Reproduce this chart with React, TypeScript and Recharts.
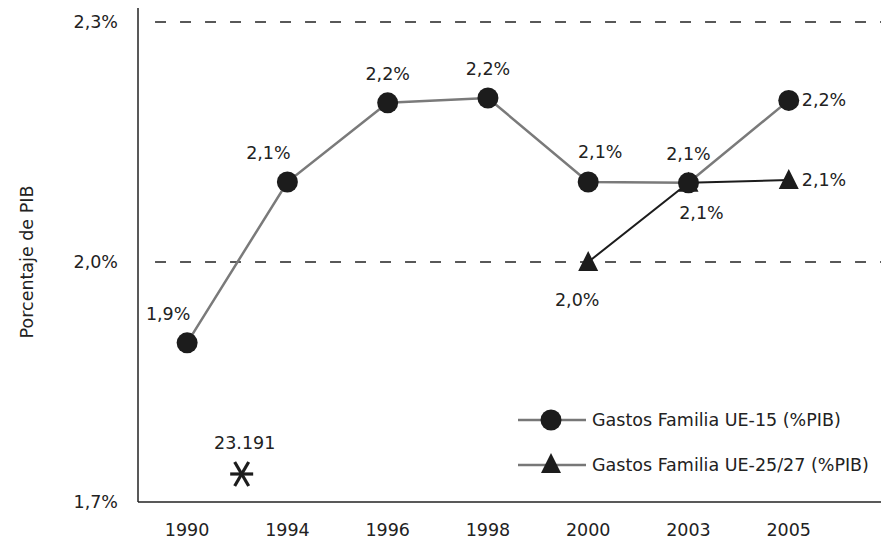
import {
  ComposedChart,
  Line,
  Scatter,
  XAxis,
  YAxis,
  ReferenceLine,
  LabelList,
} from 'recharts';

const years = ['1990', '1994', '1996', '1998', '2000', '2003', '2005'];
const ue15Values = [1.899, 2.1, 2.199, 2.205, 2.1, 2.099, 2.202];
const ue25Values: (number | null)[] = [null, null, null, null, 2.0, 2.099, 2.1025];
const ue15LabelPos = ['topLeft', 'topLeft', 'top', 'top', 'topRight', 'top', 'right'];
const ue25LabelPos = ['', '', '', '', 'bottomLeft', 'bottomRight', 'right'];
const yTicks = [1.7, 2.0, 2.3];
const gridValues = [2.0, 2.3];
const noteValue = { x: 0.544, y: 1.735, label: '23.191' };
const seriesNames = ['Gastos Familia UE-15 (%PIB)', 'Gastos Familia UE-25/27 (%PIB)'];

const FONT = '"DejaVu Sans", sans-serif';
const FS = 17.5;
const TEXT = '#222';

const ue15Data = ue15Values.map((v, i) => ({ x: i, y: v, pos: ue15LabelPos[i] }));
const ue25Data = ue25Values
  .map((v, i) => ({ x: i, y: v, pos: ue25LabelPos[i] }))
  .filter((d) => d.y !== null);

const fmtPct = (v: number) => v.toFixed(1).replace('.', ',') + '%';

const OFFSETS: Record<string, { dx: number; dy: number; anchor: string }> = {
  top: { dx: 0, dy: -29, anchor: 'middle' },
  topLeft: { dx: -19, dy: -29, anchor: 'middle' },
  topRight: { dx: 12, dy: -30, anchor: 'middle' },
  bottomLeft: { dx: -11, dy: 38, anchor: 'middle' },
  bottomRight: { dx: 13, dy: 30, anchor: 'middle' },
  right: { dx: 13, dy: 0, anchor: 'start' },
};

// eslint-disable-next-line @typescript-eslint/no-explicit-any
function makeLabel(data: any[]) {
  // eslint-disable-next-line @typescript-eslint/no-explicit-any
  return (props: any) => {
    const { x, y, value, index } = props;
    const o = OFFSETS[data[index]?.pos] ?? OFFSETS.top;
    return (
      <text
        x={x + o.dx}
        y={y + o.dy}
        textAnchor={o.anchor}
        dominantBaseline="central"
        fontSize={FS}
        fontFamily={FONT}
        fill={TEXT}
      >
        {fmtPct(value)}
      </text>
    );
  };
}

// eslint-disable-next-line @typescript-eslint/no-explicit-any
function CircleDot(props: any) {
  const { cx, cy } = props;
  if (cx == null || cy == null) return null;
  return <circle cx={cx} cy={cy} r={10.5} fill="#1c1c1c" />;
}

// eslint-disable-next-line @typescript-eslint/no-explicit-any
function TriangleDot(props: any) {
  const { cx, cy } = props;
  if (cx == null || cy == null) return null;
  return <path d={`M${cx},${cy - 11} L${cx + 10},${cy + 9} L${cx - 10},${cy + 9} Z`} fill="#1c1c1c" />;
}

// eslint-disable-next-line @typescript-eslint/no-explicit-any
function Asterisk(props: any) {
  const { cx, cy } = props;
  const h = 11.5;
  const dx = 7;
  const dy = 12;
  return (
    <g stroke="#1c1c1c" strokeWidth={3.2}>
      <line x1={cx - h} y1={cy} x2={cx + h} y2={cy} />
      <line x1={cx - dx} y1={cy - dy} x2={cx + dx} y2={cy + dy} />
      <line x1={cx + dx} y1={cy - dy} x2={cx - dx} y2={cy + dy} />
      <text
        x={cx + 3}
        y={cy - 31}
        textAnchor="middle"
        dominantBaseline="central"
        fontSize={FS}
        fontFamily={FONT}
        fill={TEXT}
        stroke="none"
      >
        {noteValue.label}
      </text>
    </g>
  );
}

function ChartLegend() {
  return (
    <div
      style={{
        position: 'absolute',
        left: 518,
        top: 397,
        fontFamily: FONT,
        fontSize: FS,
        color: TEXT,
        whiteSpace: 'nowrap',
      }}
    >
      {seriesNames.map((name, i) => (
        <div key={name} style={{ display: 'flex', alignItems: 'center', height: 45 }}>
          <svg width={74} height={30}>
            <line x1={0} y1={15} x2={68} y2={15} stroke="#777" strokeWidth={2.5} />
            {i === 0 ? <CircleDot cx={33} cy={15} /> : <TriangleDot cx={33} cy={14} />}
          </svg>
          <span>{name}</span>
        </div>
      ))}
    </div>
  );
}

export default function App() {
  return (
    <div style={{ position: 'absolute', left: 0, top: 0, width: 881, height: 550, background: '#fff' }}>
      <ComposedChart width={881} height={550} margin={{ top: 8, right: 0, left: 8, bottom: 0 }}>
        <XAxis
          type="number"
          dataKey="x"
          domain={[-0.49, 6.92]}
          ticks={[0, 1, 2, 3, 4, 5, 6]}
          tickFormatter={(i: number) => years[i]}
          allowDataOverflow
          height={48}
          tickLine={false}
          tickSize={0}
          tickMargin={22}
          axisLine={{ stroke: TEXT, strokeWidth: 1.5 }}
          tick={{ fill: TEXT, fontSize: FS, fontFamily: FONT }}
        />
        <YAxis
          type="number"
          dataKey="y"
          domain={[1.7, 2.3175]}
          ticks={yTicks}
          allowDataOverflow
          width={130}
          tickLine={false}
          tickSize={0}
          tickMargin={20}
          tickFormatter={fmtPct}
          axisLine={{ stroke: TEXT, strokeWidth: 1.5 }}
          tick={{ fill: TEXT, fontSize: FS, fontFamily: FONT }}
          label={{
            content: () => (
              <text
                x={27}
                y={262}
                transform="rotate(-90 27 262)"
                textAnchor="middle"
                dominantBaseline="central"
                fontSize={FS}
                fontFamily={FONT}
                fill={TEXT}
              >
                Porcentaje de PIB
              </text>
            ),
          }}
        />
        {gridValues.map((g) => (
          <ReferenceLine
            key={g}
            segment={[
              { x: -0.32, y: g },
              { x: 6.92, y: g },
            ]}
            stroke={TEXT}
            strokeWidth={1.5}
            strokeDasharray="11 14"
          />
        ))}
        <Line
          data={ue25Data}
          dataKey="y"
          name={seriesNames[1]}
          stroke="#1c1c1c"
          strokeWidth={2}
          dot={<TriangleDot />}
          activeDot={false}
          isAnimationActive={false}
        >
          <LabelList dataKey="y" content={makeLabel(ue25Data)} />
        </Line>
        <Line
          data={ue15Data}
          dataKey="y"
          name={seriesNames[0]}
          stroke="#7a7a7a"
          strokeWidth={2.5}
          dot={<CircleDot />}
          activeDot={false}
          isAnimationActive={false}
        >
          <LabelList dataKey="y" content={makeLabel(ue15Data)} />
        </Line>
        <Scatter data={[noteValue]} dataKey="y" shape={<Asterisk />} isAnimationActive={false} />
      </ComposedChart>
      <ChartLegend />
    </div>
  );
}
